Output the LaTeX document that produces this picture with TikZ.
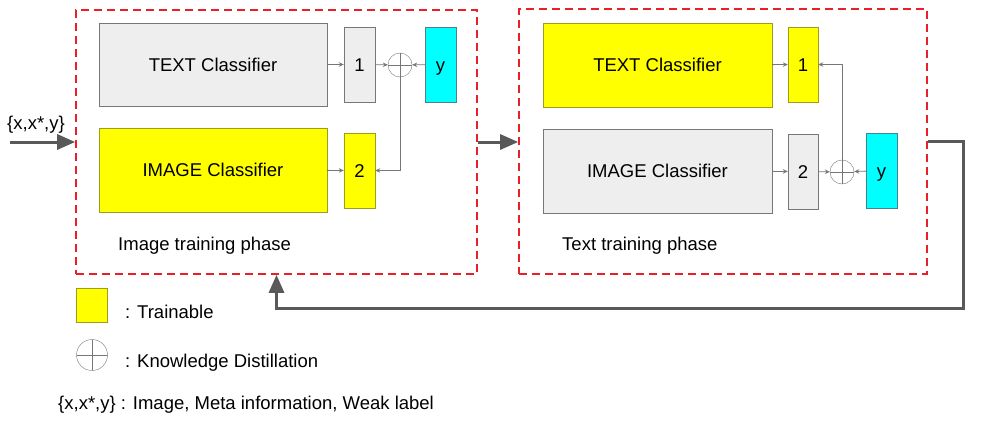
\documentclass[tikz,border=0pt]{standalone}
\usepackage{fontspec}
\setmainfont{Liberation Sans}
\usetikzlibrary{arrows.meta}
\definecolor{boxgray}{HTML}{EEEEEE}
\definecolor{edgegray}{HTML}{777777}
\definecolor{flowgray}{HTML}{595959}
\definecolor{phasered}{HTML}{E8202A}
\definecolor{trainyellow}{HTML}{FFFF00}
\definecolor{yellowedge}{HTML}{9C9C1E}
\definecolor{labelcyan}{HTML}{00FFFF}
\definecolor{cyanedge}{HTML}{45818E}
\begin{document}
\begin{tikzpicture}[x=1pt,y=-1pt,
    font=\fontsize{18.5}{22}\selectfont,
    frozen/.style={draw=edgegray, fill=boxgray, inner sep=0pt},
    trainable/.style={draw=yellowedge, fill=trainyellow, inner sep=0pt},
    classifier/.style={minimum width=228pt, minimum height=83pt},
    output/.style={minimum width=31pt, minimum height=75pt, text height=13.3pt, text depth=0pt},
    weak/.style={draw=cyanedge, fill=labelcyan, inner sep=0pt, minimum width=31pt, minimum height=75pt,
        text height=13.3pt, text depth=0pt},
    kd/.style={circle, draw=edgegray, inner sep=0pt, minimum size=#1,
        path picture={\draw[edgegray] (path picture bounding box.north) -- (path picture bounding box.south)
            (path picture bounding box.west) -- (path picture bounding box.east);}},
    kd/.default=24pt,
    phase/.style={draw=phasered, line width=1.6pt, dash pattern=on 8pt off 5pt},
    conn/.style={draw=edgegray, line width=0.8pt, -{Stealth[length=5pt,width=4.5pt]}},
    flow/.style={draw=flowgray, line width=3pt, -{Triangle[length=18pt,width=15pt]}}]

    \useasboundingbox (0,0) rectangle (992,423);

    \node[phase, minimum width=401pt, minimum height=264pt] (imgphase) at (276.5,142) {};
    \node[phase, minimum width=408pt, minimum height=265pt] (txtphase) at (723,141.5) {};

    \node[frozen, classifier] (txtL) at (213,64.5) {TEXT Classifier};
    \node[trainable, classifier, minimum height=84pt] (imgL) at (213,170) {IMAGE Classifier};
    \node[frozen, output] (oneL) at (359.5,64.5) {1};
    \node[trainable, output] (twoL) at (359.5,170.5) {2};
    \node[kd] (kdL) at (400,65) {};
    \node[weak] (yL) at (440.5,64.5) {y};

    \node[trainable, classifier, minimum width=229pt, minimum height=84pt] (txtR) at (657.5,65) {TEXT Classifier};
    \node[frozen, classifier, minimum width=229pt, minimum height=84pt] (imgR) at (657.5,171) {IMAGE Classifier};
    \node[trainable, output, minimum width=30pt] (oneR) at (803,64.5) {1};
    \node[frozen, output, minimum width=30pt] (twoR) at (803,171.5) {2};
    \node[kd] (kdR) at (842,172) {};
    \node[weak] (yR) at (881.5,170.5) {y};

    \draw[conn] (txtL) -- (oneL);
    \draw[conn] (imgL) -- (twoL);
    \draw[conn] (oneL) -- (kdL);
    \draw[conn] (yL) -- (kdL);
    \draw[conn] (kdL) |- (twoL);

    \draw[conn] (txtR) -- (oneR);
    \draw[conn] (imgR) -- (twoR);
    \draw[conn] (twoR) -- (kdR);
    \draw[conn] (yR) -- (kdR);
    \draw[conn] (kdR) |- (oneR);

    \node[anchor=base west, inner sep=0pt] (imgcap) at (118,250) {Image training phase};
    \node[anchor=base west, inner sep=0pt] (txtcap) at (562,250) {Text training phase};

    \node[anchor=base west, inner sep=0pt] (input) at (7,129) {\{x,x*,y\}};
    \coordinate (start) at (10,142);
    \coordinate (back) at (963,308);
    \draw[flow] (start) -- (imgphase.west);
    \draw[flow] (imgphase.east) -- (txtphase.west |- imgphase.east);
    \draw[flow] (txtphase.east) -| (back) -| (imgphase.south);

    \node[trainable, minimum width=31pt, minimum height=34pt] (keytrain) at (91.5,305) {};
    \node[anchor=base west, inner sep=0pt] (keytraintxt) at (125,318) {: Trainable};
    \node[kd=31pt] (keykd) at (92,355) {};
    \node[anchor=base west, inner sep=0pt] (keykdtxt) at (125,367) {: Knowledge Distillation};
    \node[anchor=base west, inner sep=0pt] (keyinput) at (58,409) {\{x,x*,y\} : Image, Meta information, Weak label};

\end{tikzpicture}
\end{document}
